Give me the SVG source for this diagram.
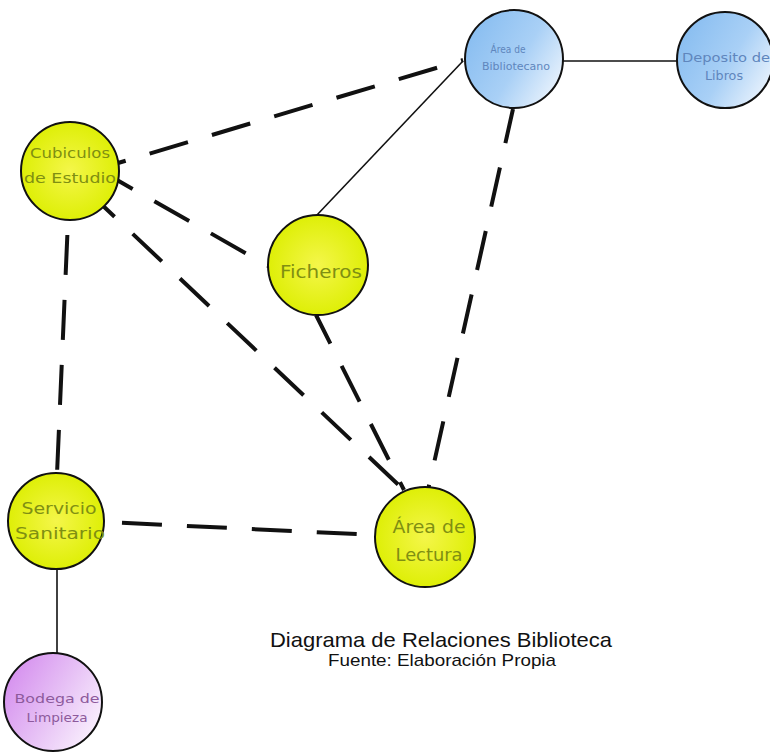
<svg xmlns="http://www.w3.org/2000/svg" width="770" height="754" viewBox="0 0 770 754">
<defs>
<radialGradient id="gy" cx="0.5" cy="0.5" r="0.55">
<stop offset="0" stop-color="#f4f64a"/>
<stop offset="1" stop-color="#dcee00"/>
</radialGradient>
<linearGradient id="gb" x1="0" y1="0.2" x2="1" y2="0.8">
<stop offset="0" stop-color="#86bcf0"/>
<stop offset="0.55" stop-color="#a9d0f6"/>
<stop offset="1" stop-color="#eef5fd"/>
</linearGradient>
<linearGradient id="gp" x1="0" y1="0.2" x2="1" y2="0.8">
<stop offset="0" stop-color="#d48cee"/>
<stop offset="0.5" stop-color="#e6bff5"/>
<stop offset="1" stop-color="#fbf4fe"/>
</linearGradient>
</defs>
<style>
.solid{stroke:#111;stroke-width:1.6;fill:none}
.dash{stroke:#111;stroke-width:4;fill:none;stroke-dasharray:40 25}
.node{stroke:#111;stroke-width:2}
.y{fill:url(#gy)}
.b{fill:url(#gb)}
.p{fill:url(#gp)}
.t{font-family:"DejaVu Sans","Noto Sans",sans-serif;text-anchor:middle}
.ty{fill:#7f8f12}
.tb{fill:#5f86bd}
.tp{fill:#8d5a9c}
.cap{font-family:"Liberation Sans",Arial,sans-serif;text-anchor:middle;fill:#111}
</style>
<rect width="770" height="754" fill="#fff"/>
<g id="connectors">
<line class="solid" x1="563" y1="61" x2="678" y2="61"/>
<line class="solid" x1="463" y1="61" x2="316" y2="216"/>
<line class="solid" x1="57" y1="569" x2="57" y2="653"/>
<line class="dash" x1="118" y1="163" x2="463" y2="60" stroke-dashoffset="32"/>
<line class="dash" x1="513" y1="109" x2="428" y2="490" stroke-dashoffset="5"/>
<line class="dash" x1="117" y1="180" x2="270" y2="267" stroke-dashoffset="22"/>
<line class="dash" x1="100" y1="203" x2="405" y2="491" stroke-dashoffset="20"/>
<line class="dash" x1="68" y1="220" x2="57" y2="474" stroke-dashoffset="50"/>
<line class="dash" x1="316" y1="315" x2="404" y2="490" stroke-dashoffset="8"/>
<line class="dash" x1="105" y1="522" x2="376" y2="535" stroke-dashoffset="48"/>
</g>
<g id="area-bibliotecano">
<circle class="node b" cx="514" cy="59" r="49"/>
<text class="t tb" x="508" y="53" font-size="10" textLength="35" lengthAdjust="spacingAndGlyphs">Área de</text>
<text class="t tb" x="516" y="70" font-size="10" textLength="68" lengthAdjust="spacingAndGlyphs">Bibliotecano</text>
</g>
<g id="deposito-libros">
<circle class="node b" cx="725" cy="60" r="48"/>
<text class="t tb" x="726" y="62" font-size="12" textLength="88" lengthAdjust="spacingAndGlyphs">Deposito de</text>
<text class="t tb" x="724" y="80" font-size="12" textLength="38" lengthAdjust="spacingAndGlyphs">Libros</text>
</g>
<g id="cubiculos">
<circle class="node y" cx="70" cy="171" r="49"/>
<text class="t ty" x="70" y="158" font-size="14" textLength="80" lengthAdjust="spacingAndGlyphs">Cubiculos</text>
<text class="t ty" x="70" y="183" font-size="14" textLength="92" lengthAdjust="spacingAndGlyphs">de Estudio</text>
</g>
<g id="ficheros">
<circle class="node y" cx="318" cy="265" r="50"/>
<text class="t ty" x="321" y="278" font-size="17" textLength="82" lengthAdjust="spacingAndGlyphs">Ficheros</text>
</g>
<g id="servicio-sanitario">
<circle class="node y" cx="56" cy="521" r="48"/>
<text class="t ty" x="59" y="514" font-size="16" textLength="75" lengthAdjust="spacingAndGlyphs">Servicio</text>
<text class="t ty" x="60" y="539" font-size="16" textLength="90" lengthAdjust="spacingAndGlyphs">Sanitario</text>
</g>
<g id="area-lectura">
<circle class="node y" cx="425" cy="537" r="50"/>
<text class="t ty" x="429" y="533" font-size="17" textLength="73" lengthAdjust="spacingAndGlyphs">Área de</text>
<text class="t ty" x="429" y="561" font-size="17" textLength="67" lengthAdjust="spacingAndGlyphs">Lectura</text>
</g>
<g id="bodega-limpieza">
<circle class="node p" cx="53" cy="702" r="49"/>
<text class="t tp" x="57" y="703" font-size="12" textLength="85" lengthAdjust="spacingAndGlyphs">Bodega de</text>
<text class="t tp" x="57" y="722" font-size="12" textLength="61" lengthAdjust="spacingAndGlyphs">Limpieza</text>
</g>
<g id="caption">
<text class="cap" x="441" y="647" font-size="21" textLength="342" lengthAdjust="spacingAndGlyphs">Diagrama de Relaciones Biblioteca</text>
<text class="cap" x="442" y="666" font-size="17" textLength="228" lengthAdjust="spacingAndGlyphs">Fuente: Elaboración Propia</text>
</g>
</svg>
